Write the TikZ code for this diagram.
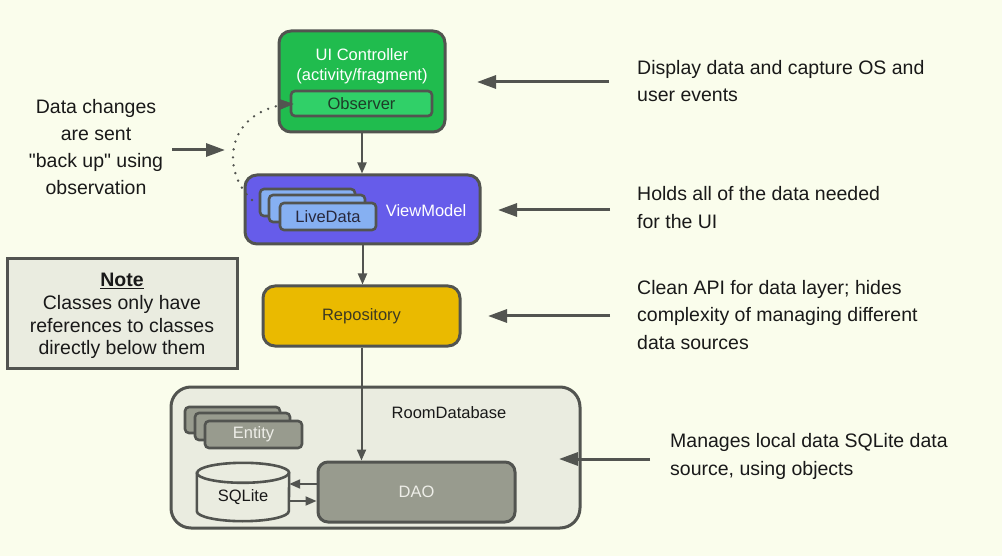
\documentclass[tikz,border=0pt]{standalone}
\usepackage{fontspec}
\setmainfont{Liberation Sans}[Ligatures=TeXOff]
\usetikzlibrary{arrows.meta}
\definecolor{bgc}{RGB}{250,253,236}
\definecolor{bord}{RGB}{82,84,80}
\definecolor{uigreen}{RGB}{32,188,78}
\definecolor{obsgreen}{RGB}{48,208,104}
\definecolor{vmpurple}{RGB}{102,92,234}
\definecolor{ldblue}{RGB}{134,176,242}
\definecolor{repogold}{RGB}{234,186,0}
\definecolor{roombg}{RGB}{234,236,224}
\definecolor{boxgray}{RGB}{152,155,142}
\definecolor{txt}{RGB}{25,25,25}
\definecolor{notebg}{RGB}{234,236,224}
\tikzset{
  box/.style={draw=bord, line width=3pt, rounded corners=12pt, inner sep=0pt},
  inbox/.style={draw=bord, line width=2.6pt, rounded corners=4pt, inner sep=0pt},
  boxfont/.style={font=\fontsize{16.5}{20}\selectfont},
  textfont/.style={font=\fontsize{19.5}{27.3}\selectfont, text=txt, inner sep=0pt},
  arr/.style={draw=bord, line width=2pt, -{Triangle[length=11pt,width=9pt]}},
  bigarr/.style={draw=bord, line width=3pt, -{Triangle[length=19pt,width=13pt]}},
}
\begin{document}
\begin{tikzpicture}[x=1pt,y=-1pt]
\useasboundingbox (0,0) rectangle (1002,556);
\fill[bgc] (0,0) rectangle (1002,556);

% UI controller
\node[box, fill=uigreen, minimum width=166pt, minimum height=101pt] (ui) at (362,81.5) {};
\node[boxfont, text=white, align=center, inner sep=0pt] (uitext) at (362,66.5) {UI Controller\\(activity/fragment)};
\node[inbox, fill=obsgreen, minimum width=141pt, minimum height=25pt, boxfont, text={rgb,255:red,30;green,60;blue,40}] (obs) at (361.5,103.5) {Observer};

% ViewModel
\node[box, fill=vmpurple, minimum width=235pt, minimum height=69pt] (vm) at (362.5,209.5) {};
\node[boxfont, text=white, inner sep=0pt] (vmtext) at (426,211) {ViewModel};
\node[inbox, fill=ldblue, minimum width=95pt, minimum height=27pt] (ld3) at (307.5,202.5) {};
\node[inbox, fill=ldblue, minimum width=96pt, minimum height=27pt] (ld2) at (317,208.5) {};
\node[inbox, fill=ldblue, minimum width=96pt, minimum height=27pt, boxfont, text={rgb,255:red,40;green,40;blue,60}] (ld1) at (328,216.5) {LiveData};

% Repository
\node[box, fill=repogold, minimum width=197pt, minimum height=60pt, boxfont, text={rgb,255:red,60;green,58;blue,35}] (repo) at (361.5,316) {Repository};

% Room database
\node[box, fill=roombg, rounded corners=20pt, minimum width=409pt, minimum height=141pt] (room) at (375.5,457.5) {};
\node[boxfont, text=txt, inner sep=0pt] (roomtext) at (449,413) {RoomDatabase};
\node[inbox, fill=boxgray, minimum width=95pt, minimum height=26pt] (en3) at (232.5,420) {};
\node[inbox, fill=boxgray, minimum width=95pt, minimum height=27pt] (en2) at (242.5,426.5) {};
\node[inbox, fill=boxgray, minimum width=97pt, minimum height=27pt, boxfont, text={rgb,255:red,238;green,238;blue,232}] (en1) at (253.5,434.5) {Entity};
\node[box, fill=boxgray, rounded corners=10pt, minimum width=197pt, minimum height=60pt, boxfont, text={rgb,255:red,238;green,238;blue,232}] (dao) at (416.5,492) {DAO};

% SQLite cylinder
\node[minimum width=92pt, minimum height=58pt, inner sep=0pt] (sqlite) at (243,492) {};
\draw[draw=bord, line width=2.6pt, fill=roombg]
  ([yshift=-10pt]sqlite.north west) -- ([yshift=10pt]sqlite.south west)
  arc[start angle=180, end angle=360, x radius=46pt, y radius=10pt]
  -- ([yshift=-10pt]sqlite.north east)
  arc[start angle=0, end angle=180, x radius=46pt, y radius=10pt] -- cycle;
\draw[draw=bord, line width=2.6pt] ([yshift=-10pt]sqlite.north west)
  arc[start angle=180, end angle=360, x radius=46pt, y radius=10pt];
\node[boxfont, text=txt, inner sep=0pt] (sqltext) at (243,497) {SQLite};

% vertical connectors
\draw[arr] (ui.south) -- (ui.south |- vm.north);
\draw[arr] (vm.south) -- (vm.south |- repo.north);
\draw[arr] (repo.south) -- (repo.south |- dao.north);
\draw[arr] ([yshift=8pt]dao.west) -- ([yshift=8pt]dao.west -| sqlite.east);
\draw[arr] ([yshift=-9pt]sqlite.east) -- ([yshift=-9pt]sqlite.east -| dao.west);

% dotted observation curve
\draw[draw=bord, line width=2.6pt, dash pattern=on 0pt off 8pt, line cap=round]
  (252,200) .. controls (222,172) and (225,118) .. (279,105.5);
\draw[bord, fill=bord] (293,104) -- (280,99.5) -- (280,109.5) -- cycle;

% Note
\node[draw=bord, line width=3pt, fill=notebg, minimum width=230pt, minimum height=109pt] (note) at (122,313.5) {};
\node[font=\fontsize{19.5}{22.8}\selectfont, text=txt, align=center, inner sep=0pt] (notetext) at (122,316)
  {\textbf{\underline{Note}}\\Classes only have\\references to classes\\directly below them};

% left text and arrow
\node[textfont, align=center] (lefttext) at (96,147) {Data changes\\are sent\\"back up" using\\observation};
\coordinate (la1) at (172,150);
\coordinate (la2) at (225,150);
\draw[bigarr] (la1) -- (la2);

% right descriptions
\node[textfont, align=left, anchor=west] (t1) at (637,81) {Display data and capture OS and\\user events};
\node[textfont, align=left, anchor=west] (t2) at (637,207.5) {Holds all of the data needed\\for the UI};
\node[textfont, align=left, anchor=west] (t3) at (637,315) {Clean API for data layer; hides\\complexity of managing different\\data sources};
\node[textfont, align=left, anchor=west] (t4) at (670,456.5) {Manages local data SQLite data\\source, using objects};

\coordinate (r1) at (609,82);
\coordinate (r1t) at (477,82);
\coordinate (r2) at (610,210);
\coordinate (r2t) at (498,210);
\coordinate (r3) at (610,316);
\coordinate (r3t) at (488,316);
\coordinate (r4) at (650,459);
\coordinate (r4t) at (559,459);
\draw[bigarr] (r1) -- (r1t);
\draw[bigarr] (r2) -- (r2t);
\draw[bigarr] (r3) -- (r3t);
\draw[bigarr] (r4) -- (r4t);
\end{tikzpicture}
\end{document}
